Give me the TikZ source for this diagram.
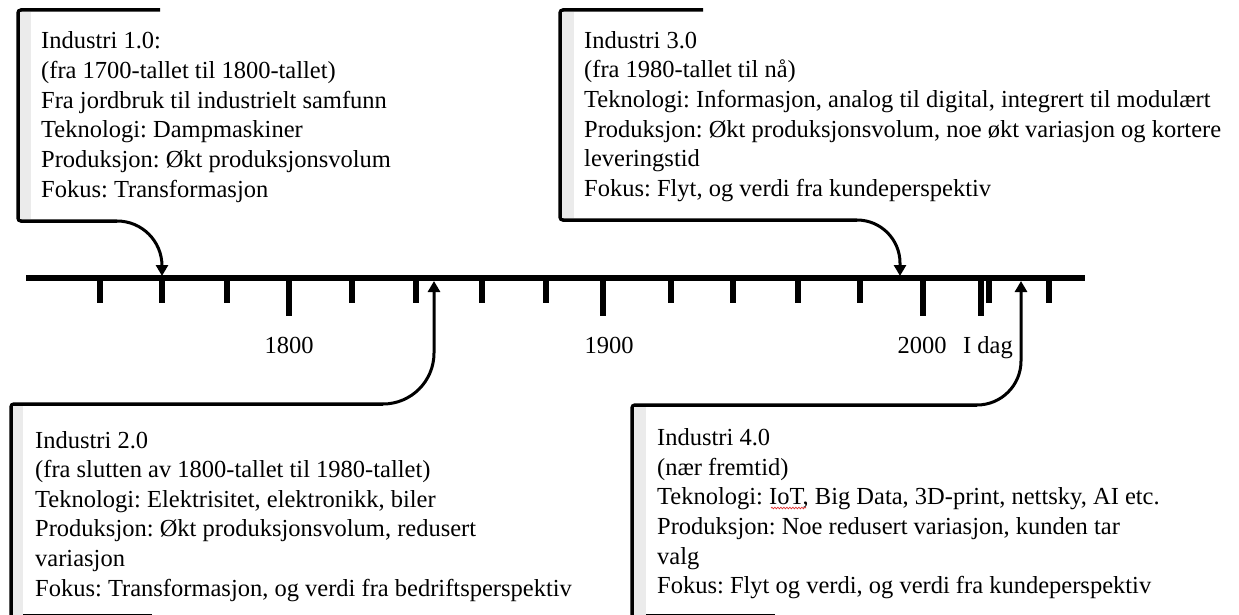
\documentclass[tikz,border=0pt]{standalone}
\usepackage{fontspec}
\setmainfont{Liberation Serif}
\usetikzlibrary{arrows.meta,decorations.pathmorphing}
\definecolor{strip}{HTML}{EBEBEB}
\definecolor{squig}{HTML}{E03030}
\frenchspacing

\begin{document}
\begin{tikzpicture}[x=1pt,y=-1pt,
  txt/.style={anchor=base west,inner sep=0pt,font=\fontsize{24.5pt}{29.6pt}\selectfont},
  yearlabel/.style={txt,anchor=base},
  frame/.style={line width=3.5pt,rounded corners=3pt},
  pointer/.style={line width=3pt,-{Triangle[width=12pt,length=11pt]}},
  axis/.style={line width=6pt},
  tickmark/.style={line width=6pt},
  spell/.style={squig,line width=0.7pt,decorate,decoration={snake,amplitude=0.8pt,segment length=3pt}}]
\useasboundingbox (0,0) rectangle (1239,615);

% time axis
\coordinate (axL) at (26,278);
\coordinate (axR) at (1085,278);
\draw[axis] (axL) -- (axR);
\foreach \t in {100,162,227,352,416,482,546,671,733,798,860,989,1049}
  \draw[tickmark] (\t,278) -- (\t,303);
\foreach \t in {289,603,923,981}
  \draw[tickmark] (\t,278) -- (\t,316);

\node[yearlabel] (y1800) at (289,353) {1800};
\node[yearlabel] (y1900) at (609,353) {1900};
\node[yearlabel] (y2000) at (922,353) {2000};
\node[txt] (idag) at (963,353) {I dag};

% arrow end points on the axis
\coordinate (p1) at (162,276);
\coordinate (p2) at (434,281);
\coordinate (p3) at (900,276);
\coordinate (p4) at (1021,281);

% Industri 1.0
\draw[frame] (160,10) -- (18,10) -- (18,221) -- (117,221) coordinate (s1);
\fill[strip] (19.75,11.75) rectangle (31,219.25);
\draw[pointer] (s1) .. controls (141.9,221) and (162,241.1) .. (162,266) -- (p1);
\node[txt] (i1a) at (41,49) {Industri 1.0:};
\node[txt] (i1b) at (41,78.6) {(fra 1700-tallet til 1800-tallet)};
\node[txt] (i1c) at (41,108.2) {Fra jordbruk til industrielt samfunn};
\node[txt] (i1d) at (41,137.8) {Teknologi: Dampmaskiner};
\node[txt] (i1e) at (41,167.4) {Produksjon: Økt produksjonsvolum};
\node[txt] (i1f) at (41,197) {Fokus: Transformasjon};

% Industri 3.0
\draw[frame] (703,10) -- (560,10) -- (560,220) -- (857,220) coordinate (s3);
\fill[strip] (561.75,11.75) rectangle (574,218.25);
\draw[pointer] (s3) .. controls (880.7,220) and (900,239.3) .. (900,263) -- (p3);
\node[txt] (i3a) at (584,48.3) {Industri 3.0};
\node[txt] (i3b) at (584,77.9) {(fra 1980-tallet til nå)};
\node[txt] (i3c) at (584,107.5) {Teknologi: Informasjon, analog til digital, integrert til modulært};
\node[txt] (i3d) at (584,137.1) {Produksjon: Økt produksjonsvolum, noe økt variasjon og kortere};
\node[txt] (i3e) at (584,166.7) {leveringstid};
\node[txt] (i3f) at (584,196.3) {Fokus: Flyt, og verdi fra kundeperspektiv};

% Industri 2.0
\draw[frame] (383,404) coordinate (s2) -- (11,404) -- (11,625);
\draw[line width=3.5pt] (11,615.5) -- (152,615.5);
\fill[strip] (12.75,405.75) rectangle (23,615);
\draw[pointer] (s2) .. controls (411.2,404) and (434,381.2) .. (434,353) -- (p2);
\node[txt] (i2a) at (35,448) {Industri 2.0};
\node[txt] (i2b) at (35,477.6) {(fra slutten av 1800-tallet til 1980-tallet)};
\node[txt] (i2c) at (35,507.2) {Teknologi: Elektrisitet, elektronikk, biler};
\node[txt] (i2d) at (35,536.8) {Produksjon: Økt produksjonsvolum, redusert};
\node[txt] (i2e) at (35,566.4) {variasjon};
\node[txt] (i2f) at (35,596) {Fokus: Transformasjon, og verdi fra bedriftsperspektiv};

% Industri 4.0
\draw[frame] (977,405) coordinate (s4) -- (632,405) -- (632,625);
\draw[line width=3.5pt] (632,615.5) -- (775,615.5);
\fill[strip] (633.75,406.75) rectangle (646,615);
\draw[pointer] (s4) .. controls (1001.3,405) and (1021,385.3) .. (1021,361) -- (p4);
\node[txt] (i4a) at (657,445.7) {Industri 4.0};
\node[txt] (i4b) at (657,475.3) {(nær fremtid)};
\node[txt] (i4c) at (657,504.9) {Teknologi: IoT, Big Data, 3D-print, nettsky, AI etc.};
\node[txt] (i4d) at (657,534.5) {Produksjon: Noe redusert variasjon, kunden tar};
\node[txt] (i4e) at (657,564.1) {valg};
\node[txt] (i4f) at (657,593.7) {Fokus: Flyt og verdi, og verdi fra kundeperspektiv};
\draw[spell] (771,508) -- (806,508);
\end{tikzpicture}
\end{document}
